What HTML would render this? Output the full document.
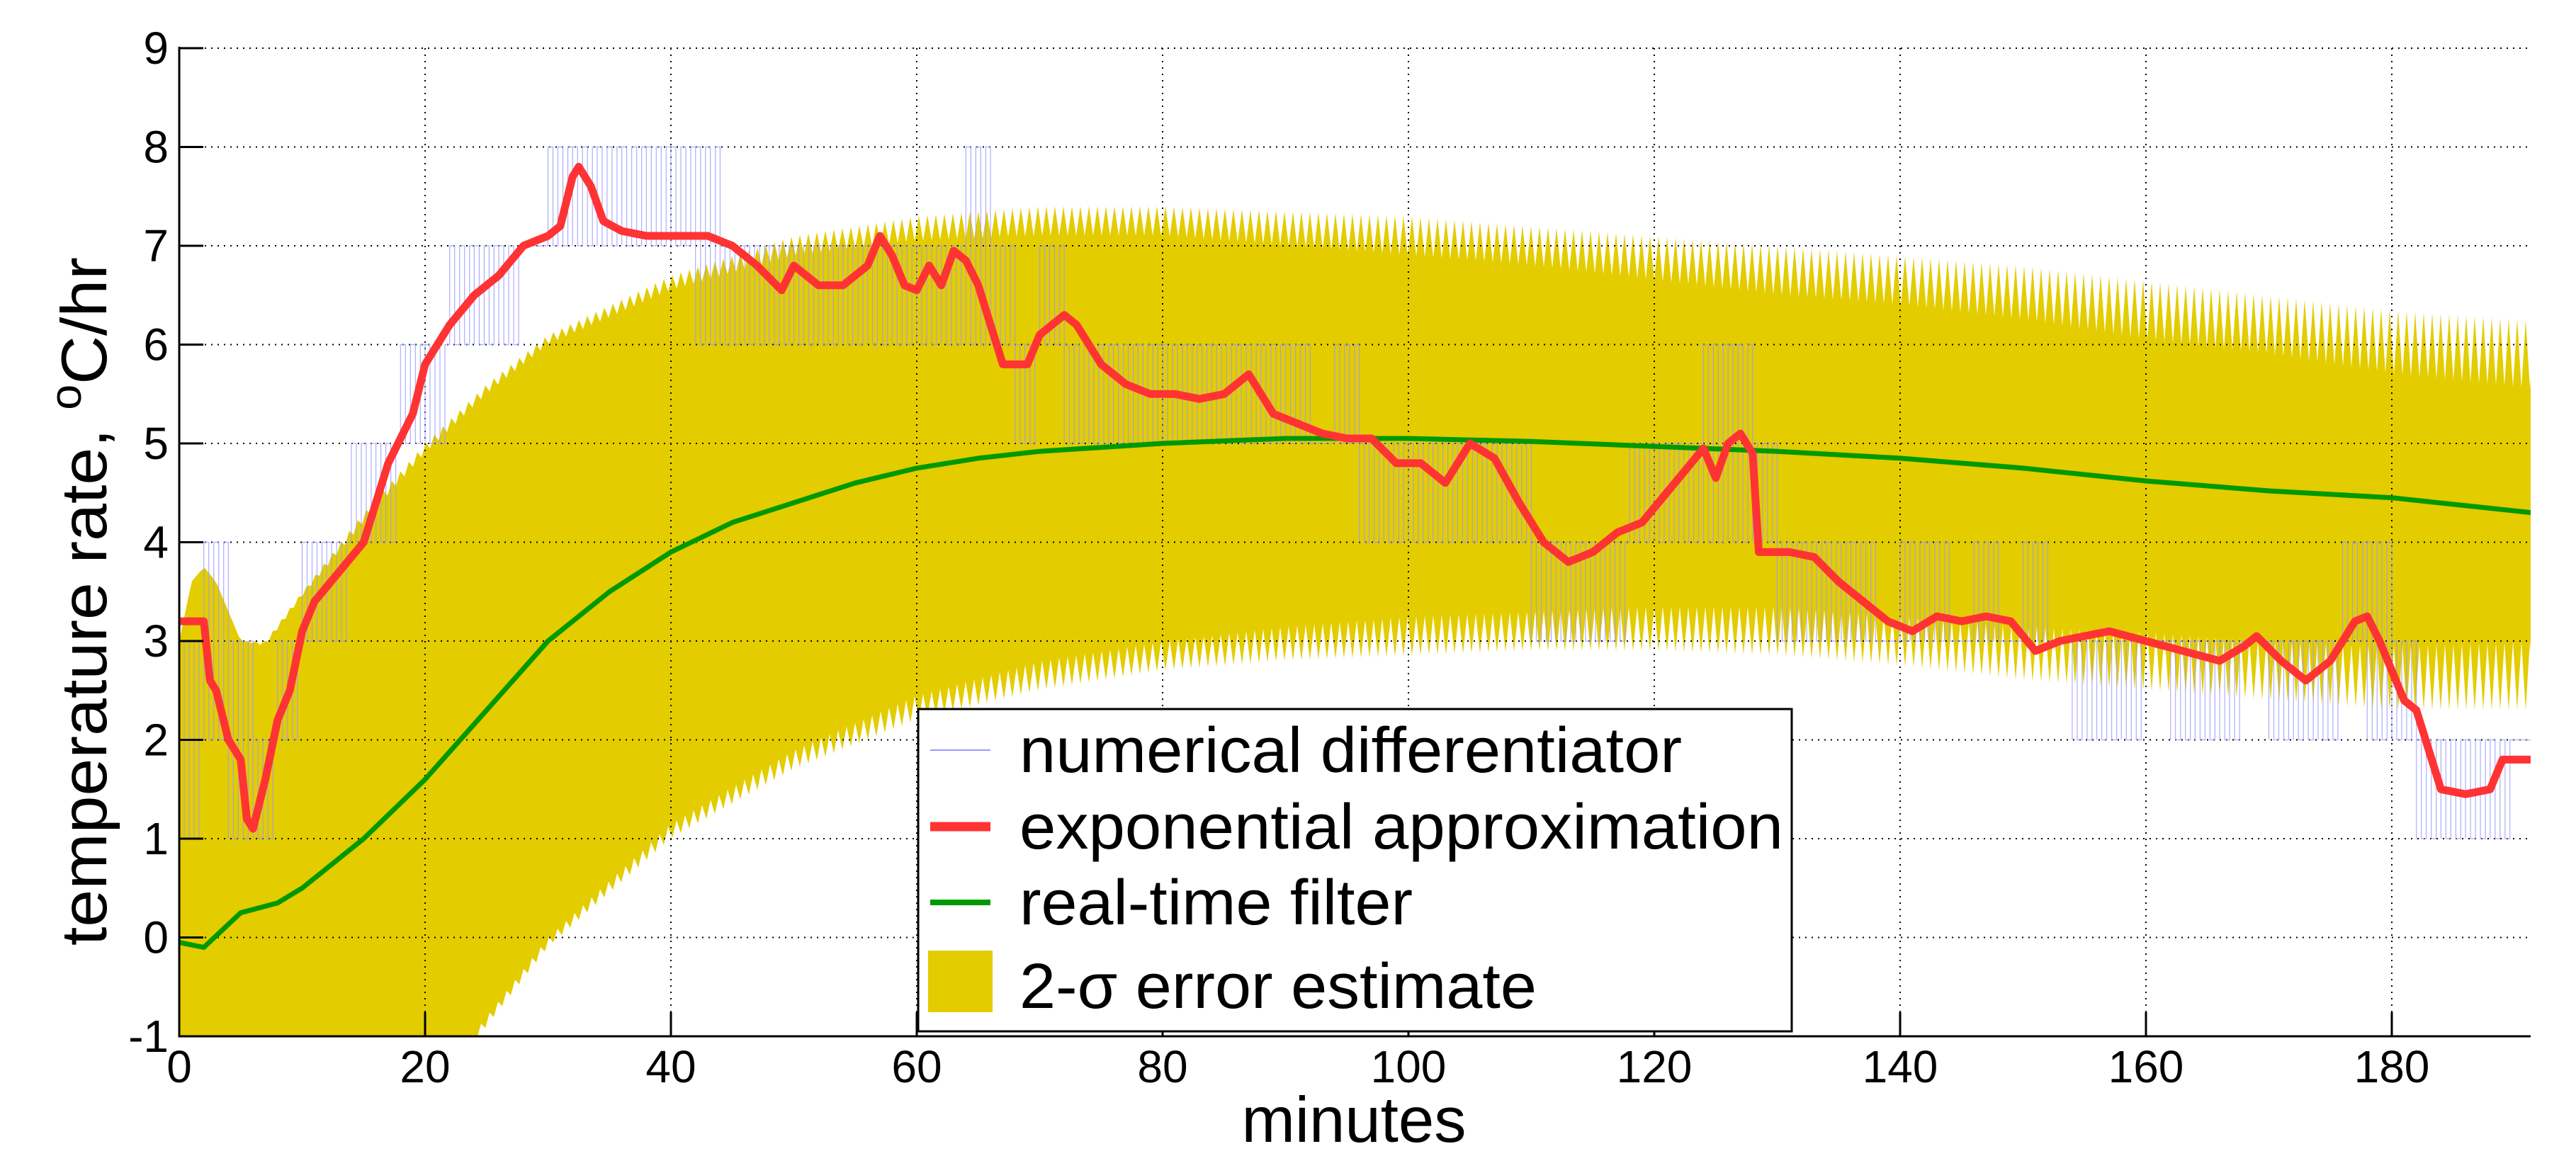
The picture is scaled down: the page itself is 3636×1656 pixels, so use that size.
<!DOCTYPE html>
<html><head><meta charset="utf-8"><style>
html,body{margin:0;padding:0;background:#fff;width:3636px;height:1656px;overflow:hidden;}
svg{display:block;font-family:"Liberation Sans",Arial,sans-serif;}
</style></head><body>
<svg id="chart" width="3636" height="1656" viewBox="0 0 3636 1656" xmlns="http://www.w3.org/2000/svg">
<defs><clipPath id="plotClip"><rect x="253" y="0" width="3319" height="1463"/></clipPath></defs>
<g id="band" clip-path="url(#plotClip)"></g>
<g id="grid"></g>
<g id="series" clip-path="url(#plotClip)"></g>
<g id="axes"></g>
<text x="1911" y="1612" font-size="91" text-anchor="middle" textLength="317" lengthAdjust="spacingAndGlyphs">minutes</text>
<text transform="translate(150,849) rotate(-90)" font-size="91" text-anchor="middle" textLength="972" lengthAdjust="spacingAndGlyphs">temperature rate, <tspan font-size="62" dy="-36">o</tspan><tspan dy="36">C/hr</tspan></text>
<g id="legend">
<rect x="1296" y="1001" width="1233" height="455" fill="#fff" stroke="#000" stroke-width="3"/>
<line x1="1313" y1="1059" x2="1398" y2="1059" stroke="#9999ff" stroke-width="2"/>
<text x="1439" y="1090" font-size="90" textLength="935" lengthAdjust="spacingAndGlyphs">numerical differentiator</text>
<line x1="1313" y1="1167" x2="1398" y2="1167" stroke="#ff3333" stroke-width="13"/>
<text x="1439" y="1198" font-size="90" textLength="1078" lengthAdjust="spacingAndGlyphs">exponential approximation</text>
<line x1="1313" y1="1274" x2="1398" y2="1274" stroke="#009900" stroke-width="8"/>
<text x="1439" y="1305" font-size="90" textLength="555" lengthAdjust="spacingAndGlyphs">real-time filter</text>
<rect x="1310" y="1342" width="91" height="87" fill="#e3cc00"/>
<text x="1439" y="1423" font-size="90" textLength="730" lengthAdjust="spacingAndGlyphs">2-σ error estimate</text>
</g>
</svg>
<script>
const xTicks = [0,20,40,60,80,100,120,140,160,180];
const yTicks = [-1,0,1,2,3,4,5,6,7,8,9];
const bandT = [0,1,2,3,5,7,10,15,20,25,30,40,50,60,70,80,90,100,110,120,130,140,150,160,170,180,191.3];
const bandUpper = [3.0,3.6,3.75,3.6,3.0,3.0,3.5,4.3,5.0,5.6,6.1,6.7,7.1,7.3,7.4,7.4,7.35,7.3,7.2,7.1,7.0,6.9,6.8,6.65,6.5,6.35,6.25];
const bandLower = [-3,-3,-3,-3,-3,-3,-3,-2.3,-1.7,-0.9,-0.1,1.0,1.7,2.2,2.5,2.7,2.8,2.85,2.9,2.9,2.85,2.75,2.6,2.5,2.4,2.3,2.3];
const bandAmp = [0,0,0,0,0,0.05,0.05,0.1,0.1,0.1,0.1,0.15,0.2,0.25,0.3,0.3,0.35,0.4,0.4,0.45,0.5,0.5,0.55,0.6,0.6,0.65,0.7];
const greenT = [0,2,5,8,10,15,20,25,30,35,40,45,50,55,60,65,70,80,90,100,110,120,130,140,150,160,170,180,191.3];
const greenV = [-0.05,-0.1,0.25,0.35,0.5,1.0,1.6,2.3,3.0,3.5,3.9,4.2,4.4,4.6,4.75,4.85,4.92,5.0,5.05,5.05,5.02,4.97,4.92,4.85,4.75,4.62,4.52,4.45,4.3];
const redT = [0,2,2.5,3,4,5,5.5,6,7,8,9,10,11,13,15,17,19,20,22,24,26,28,30,31,32,32.5,33.5,34.5,36,38,40,43,45,47,49,50,52,54,56,57,58,59,60,61,62,63,64,65,66,67,69,70,72,73,75,77,79,81,83,85,87,89,91,93,95,97,99,101,103,105,107,109,111,113,115,117,119,121,123,124,125,126,127,128,128.5,131,133,135,137,139,141,143,145,147,149,151,153,155,157,160,163,166,168,169,171,173,175,177,178,179,181,182,183,184,186,188,189,191.3];
const redV = [3.2,3.2,2.6,2.5,2.0,1.8,1.2,1.1,1.6,2.2,2.5,3.1,3.4,3.7,4.0,4.8,5.3,5.8,6.2,6.5,6.7,7.0,7.1,7.2,7.7,7.8,7.6,7.25,7.15,7.1,7.1,7.1,7.0,6.8,6.55,6.8,6.6,6.6,6.8,7.1,6.9,6.6,6.55,6.8,6.6,6.95,6.85,6.6,6.2,5.8,5.8,6.1,6.3,6.2,5.8,5.6,5.5,5.5,5.45,5.5,5.7,5.3,5.2,5.1,5.05,5.05,4.8,4.8,4.6,5.0,4.85,4.4,4.0,3.8,3.9,4.1,4.2,4.5,4.8,4.95,4.65,5.0,5.1,4.9,3.9,3.9,3.85,3.6,3.4,3.2,3.1,3.25,3.2,3.25,3.2,2.9,3.0,3.05,3.1,3.0,2.9,2.8,2.95,3.05,2.8,2.6,2.8,3.2,3.25,3.0,2.4,2.3,1.9,1.5,1.45,1.5,1.8,1.8];
const blueT = [0,2,4,6,8,10,12,14,16,18,20,22,24,26,28,30,32,34,36,38,40,42,44,46,48,50,52,54,56,58,60,62,64,66,68,70,72,74,76,78,80,82,84,86,88,90,92,94,96,98,100,102,104,106,108,110,112,114,116,118,120,122,124,126,128,130,132,134,136,138,140,142,144,146,148,150,152,154,156,158,160,162,164,166,168,170,172,174,176,178,180,182,184,186,188,190];
const blueLo = [1,2,1,1,2,3,3,4,4,5,5,6,6,6,7,7,7,7,7,7,7,6,6,6,6,6,6,6,6,6,6,6,6,6,5,6,5,5,5,5,5,5,5,5,5,5,5,5,4,4,4,4,4,4,4,3,3,3,3,4,4,4,4,4,4,3,3,3,3,3,3,3,3,3,3,3,3,2,2,2,3,2,2,2,3,2,2,2,3,2,2,1,1,1,1,2];
const blueHi = [3,4,3,2,3,4,4,5,5,6,6,7,7,7,7,8,8,8,8,8,8,8,7,7,7,7,7,7,7,7,7,7,8,7,6,7,6,6,6,6,6,6,6,6,6,6,5,6,5,5,5,5,5,5,5,4,4,4,4,5,5,5,6,6,5,4,4,4,4,3,4,4,3,4,3,4,3,3,3,3,3,3,3,3,3,3,3,3,4,4,3,2,2,2,2,2];

const NS = 'http://www.w3.org/2000/svg';
const X0 = 253, PXMIN = 17.35, Y0 = 1463, PYU = 139.5, XMAX = 191.3;
function xs(t){ return X0 + t*PXMIN; }
function ys(v){ return Y0 - (v+1)*PYU; }
function interp(T, V, t){
  if (t <= T[0]) return V[0];
  for (let i=1;i<T.length;i++){ if (t <= T[i]){ const f=(t-T[i-1])/(T[i]-T[i-1]); return V[i-1]+f*(V[i]-V[i-1]); } }
  return V[V.length-1];
}
function mk(tag, attrs, parent){
  const e = document.createElementNS(NS, tag);
  for (const k in attrs) e.setAttribute(k, attrs[k]);
  parent.appendChild(e); return e;
}

// band
const band = document.getElementById('band');
let up = [], lo = [];
const step = 6;
let k = 0;
for (let px = X0; px <= xs(XMAX)+step; px += step, k++){
  const t = Math.min((px - X0)/PXMIN, XMAX);
  const a = interp(bandT, bandAmp, t);
  const u = interp(bandT, bandUpper, t) - (k%2 ? a : 0);
  const l = interp(bandT, bandLower, t) + (k%2 ? a : 0);
  up.push(px.toFixed(1)+','+ys(u).toFixed(1));
  lo.unshift(px.toFixed(1)+','+ys(l).toFixed(1));
}
const bandPoly = mk('polygon', {points: up.concat(lo).join(' '), fill:'#e3cc00'}, band);



// grid
const grid = document.getElementById('grid');
yTicks.forEach(v => {
  if (v === -1) return;
  const g = mk('line', {x1:X0, x2:3572, y1:ys(v), y2:ys(v), stroke:'#000', 'stroke-width':2, 'stroke-dasharray':'2,7'}, grid);
  
  
});
xTicks.forEach(t => {
  if (t === 0) return;
  const g = mk('line', {x1:xs(t), x2:xs(t), y1:ys(9), y2:Y0, stroke:'#000', 'stroke-width':2, 'stroke-dasharray':'2,7'}, grid);
  
  
});

// series
const series = document.getElementById('series');
let bd = '';
for (let i=0;i<blueT.length;i++){
  const t0 = blueT[i], t1 = (i+1<blueT.length) ? blueT[i+1] : XMAX;
  const x0 = xs(t0), x1 = xs(t1);
  const yl = ys(blueLo[i]), yh = ys(blueHi[i]);
  let cur = yl;
  bd += (i===0 ? 'M' : 'L') + x0.toFixed(1) + ',' + cur.toFixed(1);
  if (blueLo[i] === blueHi[i]) { bd += 'L' + x1.toFixed(1) + ',' + cur.toFixed(1); continue; }
  for (let x = x0; x < x1; x += 7){
    bd += 'L' + x.toFixed(1) + ',' + cur.toFixed(1);
    cur = (cur === yl) ? yh : yl;
    bd += 'L' + x.toFixed(1) + ',' + cur.toFixed(1);
  }
  bd += 'L' + x1.toFixed(1) + ',' + cur.toFixed(1);
}
const blue = mk('path', {d:bd, fill:'none', stroke:'#9999ff', 'stroke-width':1.2, 'stroke-opacity':0.8}, series);



function linePath(T, V){ return T.map((t,i)=>(i?'L':'M')+xs(t).toFixed(1)+','+ys(V[i]).toFixed(1)).join(''); }
const green = mk('path', {d:linePath(greenT, greenV), fill:'none', stroke:'#009900', 'stroke-width':7, 'stroke-linejoin':'round'}, series);


const red = mk('path', {d:linePath(redT, redV), fill:'none', stroke:'#ff3333', 'stroke-width':11, 'stroke-linejoin':'round'}, series);



// axes
const axes = document.getElementById('axes');
const ax1 = mk('line', {x1:X0, x2:X0, y1:ys(9)-2, y2:Y0+1.5, stroke:'#000', 'stroke-width':3}, axes);


const ax2 = mk('line', {x1:X0-1.5, x2:3572, y1:Y0, y2:Y0, stroke:'#000', 'stroke-width':3}, axes);


xTicks.forEach(t => {
  const tk = mk('line', {x1:xs(t), x2:xs(t), y1:Y0, y2:Y0-34, stroke:'#000', 'stroke-width':3}, axes);
  
  
  const lb = mk('text', {x:xs(t), y:1528, 'font-size':64, 'text-anchor':'middle'}, axes);
  lb.textContent = String(t);
  
  
});
yTicks.forEach(v => {
  const tk = mk('line', {x1:X0, x2:X0+34, y1:ys(v), y2:ys(v), stroke:'#000', 'stroke-width':3}, axes);
  
  
  const lb = mk('text', {x:238, y:ys(v)+22, 'font-size':64, 'text-anchor':'end'}, axes);
  lb.textContent = String(v);
  
  
});
</script>
</body></html>
